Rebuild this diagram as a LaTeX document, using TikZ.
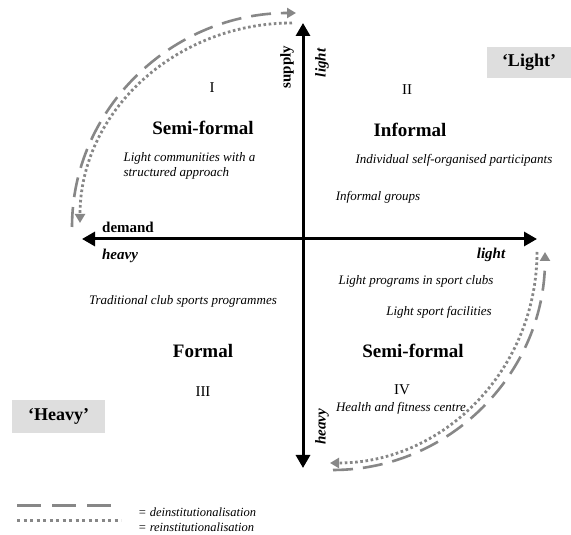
\documentclass[tikz,border=0pt]{standalone}
\usepackage{fontspec}
\setmainfont{Liberation Serif}
\usetikzlibrary{arrows.meta}
\definecolor{arrowgray}{RGB}{135,135,135}
\definecolor{boxgray}{RGB}{222,222,222}
\begin{document}
\begin{tikzpicture}[x=1pt,y=1pt,
  axis/.style={line width=3pt,{Triangle[length=13pt,width=14pt]}-{Triangle[length=13pt,width=14pt]}},
  trend/.style={line width=2.6pt,draw=arrowgray,-{Triangle[length=9pt,width=10pt]}},
  dashline/.style={trend,dash pattern=on 20pt off 10pt},
  dotline/.style={trend,line width=2.8pt,dash pattern=on 2.6pt off 2.6pt},
  legdash/.style={line width=3pt,draw=arrowgray,dash pattern=on 24pt off 11pt},
  legdot/.style={line width=3pt,draw=arrowgray,dash pattern=on 3pt off 3.5pt},
  head/.style={font=\fontsize{19}{22}\selectfont\bfseries},
  ex/.style={font=\fontsize{13}{16}\selectfont\itshape},
  axlab/.style={font=\fontsize{15}{18}\selectfont\bfseries},
  axlabit/.style={font=\fontsize{15}{18}\selectfont\bfseries\itshape},
  numeral/.style={font=\fontsize{15}{18}\selectfont},
  boxlab/.style={fill=boxgray,font=\fontsize{18}{21}\selectfont\bfseries,inner sep=0pt},
  legtext/.style={font=\fontsize{12.5}{15}\selectfont\itshape,anchor=west,inner sep=0pt}
]
\useasboundingbox[fill=white] (0,0) rectangle (571,535);

% axes
\coordinate (left) at (82,296);
\coordinate (right) at (537,296);
\coordinate (top) at (303,512);
\coordinate (bottom) at (303,67);
\draw[axis] (left) -- (right);
\draw[axis] (bottom) -- (top);

% axis labels
\node[axlab,rotate=90] (supply) at (287,468) {supply};
\node[axlabit,rotate=90] (lighttop) at (322,472) {light};
\node[axlab] (demand) at (128,308) {demand};
\node[axlabit] (heavyleft) at (120,279) {heavy};
\node[axlabit] (lightright) at (491,280) {light};
\node[axlabit,rotate=90] (heavybottom) at (322,108) {heavy};

% quadrant I
\node[numeral] (q1) at (212,447) {I};
\node[head] (semi1) at (203,407) {Semi-formal};
\node[align=left,anchor=west,font=\fontsize{13}{15}\selectfont\itshape] (lc) at (120,369) {Light communities with a\\structured approach};

% quadrant II
\node[numeral] (q2) at (407,445) {II};
\node[head] (informal) at (410,405) {Informal};
\node[ex] (indiv) at (454,375) {Individual self-organised participants};
\node[ex] (igroups) at (378,338) {Informal groups};
\node[boxlab,minimum width=84pt,minimum height=31pt] (lightbox) at (529,472.5) {`Light'};

% quadrant III
\node[ex] (trad) at (183,234) {Traditional club sports programmes};
\node[head] (formal) at (203,184) {Formal};
\node[numeral] (q3) at (203,143) {III};
\node[boxlab,minimum width=93pt,minimum height=33pt] (heavybox) at (58.5,118.5) {`Heavy'};

% quadrant IV
\node[ex] (lprog) at (416,254) {Light programs in sport clubs};
\node[ex] (lfac) at (439,223) {Light sport facilities};
\node[head] (semi4) at (413,184) {Semi-formal};
\node[numeral] (q4) at (402,145) {IV};
\node[ex] (health) at (401,127) {Health and fitness centre};

% trend arcs, quadrant I
\coordinate (d1s) at (72,308);
\coordinate (p1s) at (292,512);
\draw[dashline] (d1s) arc[start angle=180,end angle=90,x radius=224,y radius=214];
\draw[dotline] (p1s) arc[start angle=90,end angle=180,x radius=212,y radius=200];

% trend arcs, quadrant IV
\coordinate (d4s) at (333,65);
\coordinate (p4s) at (537,283);
\draw[dashline] (d4s) arc[start angle=270,end angle=360,x radius=212,y radius=218];
\draw[dotline] (p4s) arc[start angle=0,end angle=-90,x radius=207,y radius=211];

% legend
\coordinate (ld1) at (17,29);
\coordinate (ld2) at (113,29);
\coordinate (lp1) at (17,14);
\coordinate (lp2) at (121,14);
\draw[legdash] (ld1) -- (ld2);
\draw[legdot] (lp1) -- (lp2);
\node[legtext] (deinst) at (138,23) {= deinstitutionalisation};
\node[legtext] (reinst) at (138,7.5) {= reinstitutionalisation};
\end{tikzpicture}
\end{document}
